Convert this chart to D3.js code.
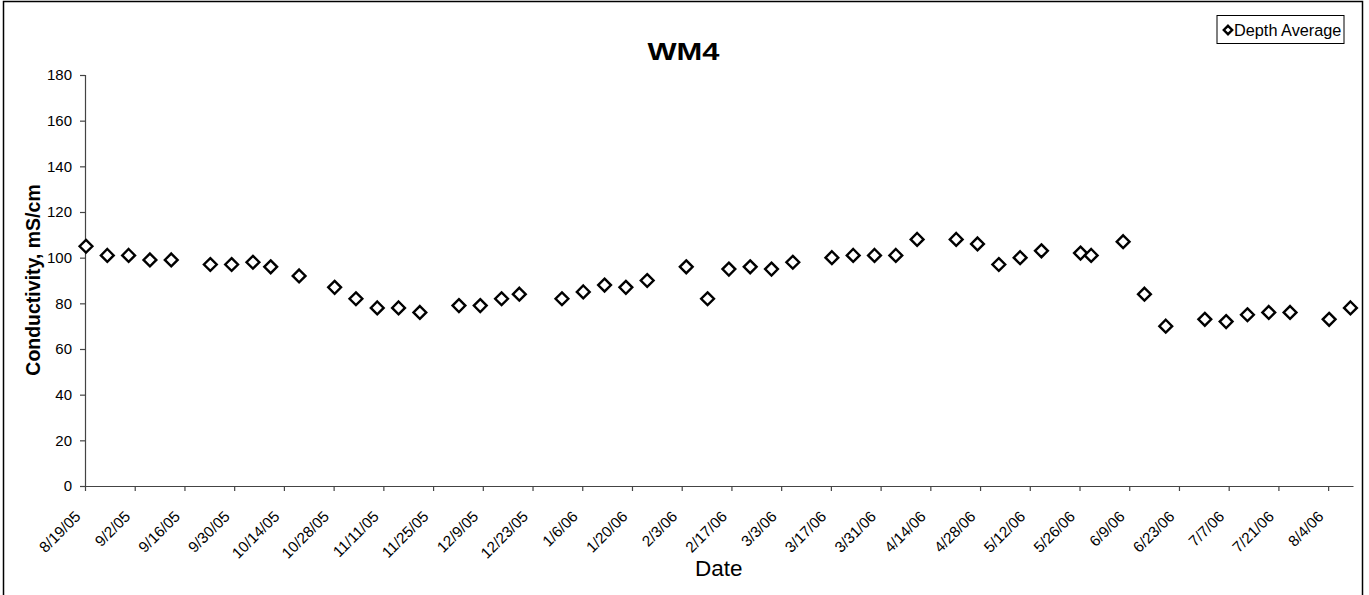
<!DOCTYPE html>
<html>
<head>
<meta charset="utf-8">
<script src="https://cdn.jsdelivr.net/npm/d3@7"></script>
<style>
  html, body { margin: 0; padding: 0; background: #fff; }
  svg { display: block; font-family: Arial, "Liberation Sans", sans-serif; }
</style>
</head>
<body>
<svg id="chart" width="1369" height="595"></svg>
<script>
const chartTitle = "WM4";
const seriesName = "Depth Average";
const xTitle = "Date";
const yTitle = "Conductivity, mS/cm";

const sampleDates = [
  "2005-08-19","2005-08-25","2005-08-31","2005-09-06","2005-09-12","2005-09-23","2005-09-29",
  "2005-10-05","2005-10-10","2005-10-18","2005-10-28","2005-11-03","2005-11-09","2005-11-15",
  "2005-11-21","2005-12-02","2005-12-08","2005-12-14","2005-12-19","2005-12-31","2006-01-06",
  "2006-01-12","2006-01-18","2006-01-24","2006-02-04","2006-02-10","2006-02-16","2006-02-22",
  "2006-02-28","2006-03-06","2006-03-17","2006-03-23","2006-03-29","2006-04-04","2006-04-10",
  "2006-04-21","2006-04-27","2006-05-03","2006-05-09","2006-05-15","2006-05-26","2006-05-29",
  "2006-06-07","2006-06-13","2006-06-19","2006-06-30","2006-07-06","2006-07-12","2006-07-18",
  "2006-07-24","2006-08-04","2006-08-10"
];
const depthAverage = [
  105,101,101,99,99,97,97,98,96,92,87,82,78,78,76,79,79,82,84,82,85,88,87,90,96,82,
  95,96,95,98,100,101,101,101,108,108,106,97,100,103,102,101,107,84,70,73,72,75,76,76,73,78
];
const xTickDates = [
  "2005-08-19","2005-09-02","2005-09-16","2005-09-30","2005-10-14","2005-10-28","2005-11-11",
  "2005-11-25","2005-12-09","2005-12-23","2006-01-06","2006-01-20","2006-02-03","2006-02-17",
  "2006-03-03","2006-03-17","2006-03-31","2006-04-14","2006-04-28","2006-05-12","2006-05-26",
  "2006-06-09","2006-06-23","2006-07-07","2006-07-21","2006-08-04"
];
const xTickLabels = [
  "8/19/05","9/2/05","9/16/05","9/30/05","10/14/05","10/28/05","11/11/05","11/25/05","12/9/05",
  "12/23/05","1/6/06","1/20/06","2/3/06","2/17/06","3/3/06","3/17/06","3/31/06","4/14/06",
  "4/28/06","5/12/06","5/26/06","6/9/06","6/23/06","7/7/06","7/21/06","8/4/06"
];
const xDomain = ["2005-08-19","2006-08-11"];
const yTicks = [0,20,40,60,80,100,120,140,160,180];
const yDomain = [0,180];

const parse = d3.utcParse("%Y-%m-%d");
const svg = d3.select("#chart");

// outer chart border
svg.append("rect").attr("x",3.5).attr("y",1.5).attr("width",1359).attr("height",600)
  .attr("fill","none").attr("stroke","#000").attr("stroke-width",1.5);

const plot = {left:85, right:1353, top:75, bottom:486};
const x = d3.scaleUtc().domain(xDomain.map(parse)).range([plot.left, plot.right]);
const y = d3.scaleLinear().domain(yDomain).range([plot.bottom, plot.top]);

// Y axis
const yAxis = svg.append("g").attr("transform",`translate(${plot.left},0)`)
  .call(d3.axisLeft(y).tickValues(yTicks).tickSize(5).tickPadding(8).tickFormat(d3.format("d")));
yAxis.select(".domain").attr("stroke","#444").attr("stroke-width",1.2);
yAxis.selectAll(".tick line").attr("stroke","#444").attr("stroke-width",1.2);
yAxis.selectAll(".tick text").attr("font-size",15).attr("fill","#000")
  .attr("font-family","Arial, 'Liberation Sans', sans-serif");

// X axis
const xAxis = svg.append("g").attr("transform",`translate(0,${plot.bottom})`)
  .call(d3.axisBottom(x).tickValues(xTickDates.map(parse)).tickSize(5).tickSizeOuter(0)
    .tickFormat((d,i)=>xTickLabels[i]));
xAxis.select(".domain").attr("stroke","#444").attr("stroke-width",1.2);
xAxis.selectAll(".tick line").attr("stroke","#444").attr("stroke-width",1.2);
xAxis.selectAll(".tick text")
  .attr("font-size",15.3).attr("fill","#000")
  .attr("font-family","Arial, 'Liberation Sans', sans-serif")
  .attr("text-anchor","end").attr("dy",0).attr("y",0)
  .attr("transform","translate(-4,31.5) rotate(-45)");

// points (diamonds)
const diamond = (cx, cy, r) => `M${cx},${cy-r}L${cx+r},${cy}L${cx},${cy+r}L${cx-r},${cy}Z`;
svg.append("g").selectAll("path").data(sampleDates.map((d,i)=>({date:parse(d), v:depthAverage[i]})))
  .join("path")
  .attr("d", d => diamond(x(d.date)+1, y(d.v), 6.4))
  .attr("fill","#fff").attr("stroke","#000").attr("stroke-width",2.4);

// title
svg.append("text").attr("x",683.5).attr("y",59.5).attr("text-anchor","middle")
  .attr("font-size",24).attr("font-weight","bold")
  .attr("textLength",72).attr("lengthAdjust","spacingAndGlyphs").text(chartTitle);

// axis titles
svg.append("text").attr("x",718.8).attr("y",575.5).attr("text-anchor","middle")
  .attr("font-size",22.5).text(xTitle);
svg.append("text").attr("transform","translate(39.5,280) rotate(-90)").attr("text-anchor","middle")
  .attr("font-size",19.5).attr("font-weight","bold").text(yTitle);

// legend
const lg = svg.append("g");
lg.append("rect").attr("x",1217).attr("y",15.5).attr("width",127).attr("height",28)
  .attr("fill","#fff").attr("stroke","#000").attr("stroke-width",1);
lg.append("path").attr("d", diamond(1228, 30, 4.2))
  .attr("fill","#fff").attr("stroke","#000").attr("stroke-width",2.4);
lg.append("text").attr("x",1234).attr("y",35.7).attr("font-size",16.3).text(seriesName);
</script>
</body>
</html>
